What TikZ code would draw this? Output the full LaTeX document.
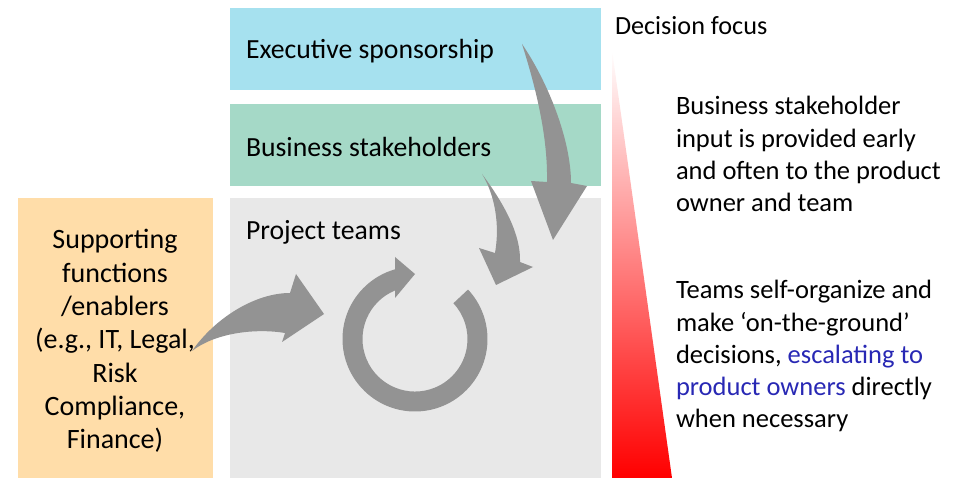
\documentclass[tikz,border=0pt]{standalone}
\usepackage{fontspec}
\setmainfont{Carlito}
\usetikzlibrary{calc}
\definecolor{execc}{HTML}{A6E1EF}
\definecolor{bizc}{HTML}{A5D9C7}
\definecolor{projc}{HTML}{E8E8E8}
\definecolor{suppc}{HTML}{FFDDA9}
\definecolor{arrc}{HTML}{939393}
\definecolor{bluetxt}{RGB}{40,40,180}
\begin{document}
\begin{tikzpicture}[x=1pt,y=1pt,
  txt/.style={font=\fontsize{26.5}{32.2}\selectfont, inner sep=0pt, outer sep=0pt},
  lbl/.style={font=\fontsize{27.7}{33.3}\selectfont, inner sep=0pt, outer sep=0pt},
  supptxt/.style={font=\fontsize{28}{33.3}\selectfont, inner sep=0pt, outer sep=0pt},
  panel/.style={draw=none, inner sep=0pt, outer sep=0pt, anchor=north west},
  blockarrow/.style={fill=arrc, draw=none}]
\useasboundingbox (0,0) rectangle (962,-478);
% panels
\node[panel, fill=execc, minimum width=371pt, minimum height=82pt] (exec) at (230,-8) {};
\node[panel, fill=bizc, minimum width=371pt, minimum height=82pt] (biz) at (230,-104) {};
\node[panel, fill=projc, minimum width=371pt, minimum height=280pt] (proj) at (230,-198) {};
\node[panel, fill=suppc, minimum width=195pt, minimum height=280pt] (supp) at (18,-198) {};
% labels
\node[lbl, anchor=base west] (execl) at (246,-59) {Executive sponsorship};
\node[lbl, anchor=base west] (bizl) at (246,-157) {Business stakeholders};
\node[lbl, anchor=base west] (projl) at (246,-240) {Project teams};
\node[supptxt, anchor=base] (suppl) at (115,-249) {\vtop{\halign{\hfil#\hfil\cr
 Supporting\cr functions\cr /enablers\cr (e.g., IT, Legal,\cr Risk\cr Compliance,\cr Finance)\cr}}};
\node[txt, font=\fontsize{26.2}{32}\selectfont, anchor=base west] (focus) at (615,-35) {Decision focus};
\node[txt, anchor=base west] (note1) at (676,-115) {\vtop{\halign{#\hfil\cr
 Business stakeholder\cr input is provided early\cr and often to the product\cr owner and team\cr}}};
\node[txt, anchor=base west] (note2) at (676,-299) {\vtop{\halign{#\hfil\cr
 Teams self-organize and\cr make `on-the-ground'\cr decisions, \textcolor{bluetxt}{escalating to}\cr
 \textcolor{bluetxt}{product owners} directly\cr when necessary\cr}}};
% gradient triangle
\shade[top color=white, bottom color=red] (612,-50) -- (672,-478) -- (612,-478) -- cycle;
% big curved arrow (exec -> proj)
\fill[blockarrow] (522,-44) .. controls (548,-82) and (571,-140) .. (571,-183)
  -- (587,-186) -- (553,-240) -- (531,-181) -- (547,-182)
  .. controls (548,-135) and (535,-85) .. (522,-44) -- cycle;
% small curved arrow (biz -> proj)
\fill[blockarrow] (482,-174) .. controls (505,-205) and (521,-235) .. (520,-262)
  -- (533,-267) -- (496,-285) -- (479,-248) -- (495,-253)
  .. controls (500,-225) and (495,-195) .. (482,-174) -- cycle;
% left arrow (supp -> proj)
\fill[blockarrow] (192,-351) .. controls (215,-318) and (255,-293) .. (290,-293)
  -- (296,-274) -- (324,-314) -- (282,-342) -- (285,-333)
  .. controls (255,-328) and (215,-333) .. (192,-351) -- cycle;
% circular arrow
\fill[blockarrow] (395,-257) -- (415,-274) -- (395,-298) -- (395,-290.5)
  arc[start angle=112.4, end angle=403, radius=52.5]
  -- ($(415,-339)+(43:72.5)$)
  arc[start angle=403, end angle=106, radius=72.5] -- cycle;
\end{tikzpicture}
\end{document}
